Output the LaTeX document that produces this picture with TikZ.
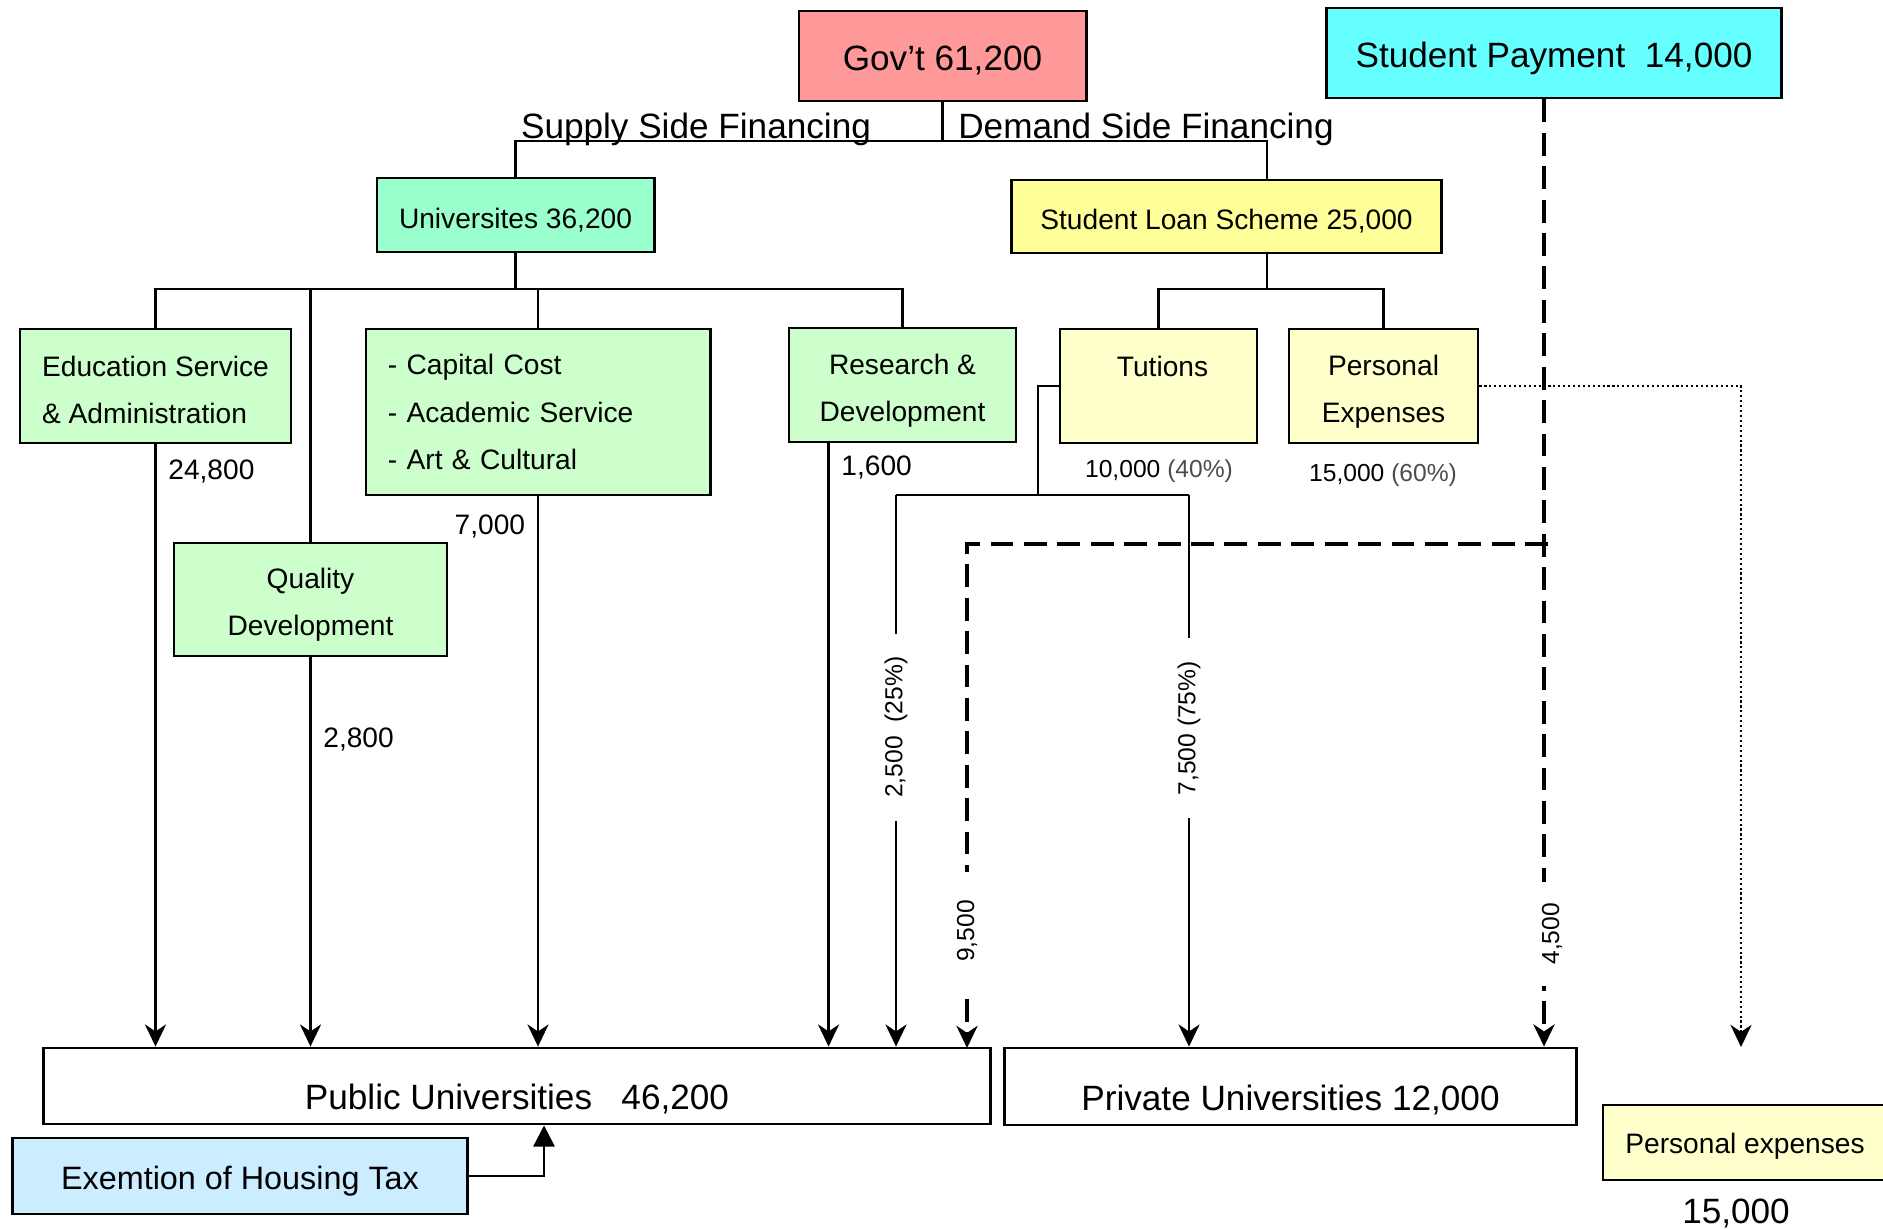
\documentclass[tikz,border=0pt]{standalone}
\usepackage{fontspec}
\setmainfont{Liberation Sans}
\usetikzlibrary{arrows.meta}
\definecolor{govred}{HTML}{FF9999}
\definecolor{paycyan}{HTML}{66FFFF}
\definecolor{univgreen}{HTML}{99FFCC}
\definecolor{loanyellow}{HTML}{FFFF99}
\definecolor{palegreen}{HTML}{CCFFCC}
\definecolor{paleyellow}{HTML}{FFFFCC}
\definecolor{taxblue}{HTML}{CCECFF}
\newcommand\drop[1]{\rule{0pt}{#1}}
\begin{document}
\begin{tikzpicture}[x=0.01cm, y=-0.01cm, line width=0.65pt,
		box/.style={draw=black, line width=0.8pt, inner sep=0pt, align=center},
		sink/.style={execute at begin node={\drop{#1}}},
		big/.style={font=\fontsize{10}{12}\selectfont},
		small/.style={font=\fontsize{8}{13.4}\selectfont},
		tiny/.style={font=\fontsize{7}{9}\selectfont},
		flow/.style={-{Stealth[length=6.3pt, width=6pt, inset=2pt]}},
		paid/.style={line width=1pt, dash pattern=on 6.5pt off 3pt},
		gapped/.style={tiny, rotate=90, fill=white, inner xsep=6.5pt, inner ysep=1pt}]
		\pgfmathsetmacro{\rowh}{1.14}
		\useasboundingbox (0,0) rectangle (1883,1228);

		\node[box, big, sink=9.5pt, fill=govred, minimum width=2.87cm, minimum height=0.9cm] (gov) at (942.5,56) {Gov't 61,200};
		\node[box, big, sink=10.1pt, fill=paycyan, minimum width=4.54cm, minimum height=0.9cm] (pay) at (1554,53) {Student Payment\ \ 14,000};
		\node[big] (supply) at (696,129) {Supply Side Financing};
		\node[big] (demand) at (1146,129) {Demand Side Financing};

		\node[box, small, sink=8.6pt, fill=univgreen, minimum width=2.77cm, minimum height=0.74cm] (univ) at (515.5,215) {Universites 36,200};
		\node[box, small, sink=8.6pt, fill=loanyellow, minimum width=4.29cm, minimum height=0.73cm] (sls) at (1226.5,216.5) {Student Loan Scheme 25,000};

		\node[box, small, fill=palegreen, minimum width=2.71cm, minimum height=\rowh cm, align=left] (edu) at (155.5,386) {\drop{7.8pt}Education Service\\\& Administration};
		\node[box, small, fill=palegreen, minimum width=3.44cm, minimum height=1.66cm, text width=3.0cm, align=left] (cap) at (538,412) {- Capital Cost\\- Academic Service\\- Art \& Cultural};
		\node[box, small, fill=palegreen, minimum width=2.27cm, minimum height=\rowh cm] (rd) at (902.5,385) {\drop{9.2pt}Research \&\\Development};
		\node[box, small, fill=palegreen, minimum width=2.73cm, minimum height=1.13cm] (qual) at (310.5,599.5) {\drop{8.6pt}Quality\\Development};
		\node[box, small, fill=paleyellow, minimum width=1.97cm, minimum height=\rowh cm] (tut) at (1158.5,386) {\drop{8pt}\hspace{0.08cm}Tutions\\\mbox{}};
		\node[box, small, fill=paleyellow, minimum width=1.89cm, minimum height=\rowh cm] (pers) at (1383.5,386) {\drop{9.2pt}Personal\\Expenses};
		\node[tiny] (t40) at (1159,471) {10,000 \textcolor{black!70}{(40\%)}};
		\node[tiny] (t60) at (1383,475) {15,000 \textcolor{black!70}{(60\%)}};

		\node[box, big, sink=14.7pt, minimum width=9.46cm, minimum height=0.76cm] (pub) at (517,1086) {Public Universities\ \ \ 46,200};
		\node[box, big, sink=14.7pt, minimum width=5.71cm, minimum height=0.77cm] (priv) at (1290.5,1086.5) {Private Universities 12,000};
		\node[box, font=\fontsize{9.2}{11}\selectfont, sink=9.6pt, fill=taxblue, minimum width=4.54cm, minimum height=0.76cm] (tax) at (240,1176) {Exemtion of Housing Tax};
		\node[box, small, sink=8pt, fill=paleyellow, minimum width=2.84cm, minimum height=0.75cm] (own) at (1745,1142.5) {Personal expenses};
		\node[big] (ownsum) at (1736,1213) {15,000};

		\draw (gov.south) -- (gov.south |- 0,141) coordinate (split);
		\draw (univ.north) |- (split) -| ([xshift=0.405cm]sls.north);
		\draw (univ.south) -- (univ.south |- 0,289) coordinate (ufork);
		\draw (edu.north) |- (ufork) -| (rd.north);
		\draw (qual.north) -- (qual.north |- ufork);
		\draw (cap.north) -- (cap.north |- ufork);
		\draw (sls.south) ++(0.405cm,0) coordinate (sfork) -- (sfork |- 0,289) coordinate (lfork);
		\draw (tut.north) |- (lfork) -| (pers.north);

		\draw[flow] (edu.south) -- node[small, right, pos=0.045] (l248) {24,800} (edu.south |- pub.north);
		\draw[flow] (qual.south) -- node[small, right, pos=0.21] (l28) {2,800} (qual.south |- pub.north);
		\draw[flow] (cap.south) -- node[small, left, pos=0.054] (l70) {7,000} (cap.south |- pub.north);
		\draw[flow] ([xshift=0.41cm]rd.south west) coordinate (rdout) -- node[small, right, pos=0.04] (l16) {1,600} (rdout |- pub.north);

		\draw (tut.west) -| (1038,495);
		\draw (896,495) coordinate (tl) -- (1189,495) coordinate (tr);
		\draw[flow] (tl) -- node[gapped, pos=0.421] (l25) {2,500\ \ (25\%)} (tl |- pub.north);
		\draw[flow] (tr) -- node[gapped, pos=0.423] (l75) {7,500 (75\%)} (tr |- priv.north);

		\draw[paid, flow] ([xshift=-0.1cm]pay.south) coordinate (pout) -- node[xshift=0.08cm, gapped, inner xsep=6pt, pos=0.881] (l45) {4,500} (pout |- priv.north);
		\draw[paid, flow] (1548,544) -| node[gapped, inner xsep=8pt, pos=0.884] (l95) {9,500} (967,1048);

		\draw[line width=0.7pt, dash pattern=on 0.6pt off 0.8pt, flow] (pers.east) -| (1741,1047);
		\draw[-{Triangle[length=6pt, width=6pt]}] (tax.east) -| ([xshift=0.27cm]pub.south);
	\end{tikzpicture}
\end{document}
